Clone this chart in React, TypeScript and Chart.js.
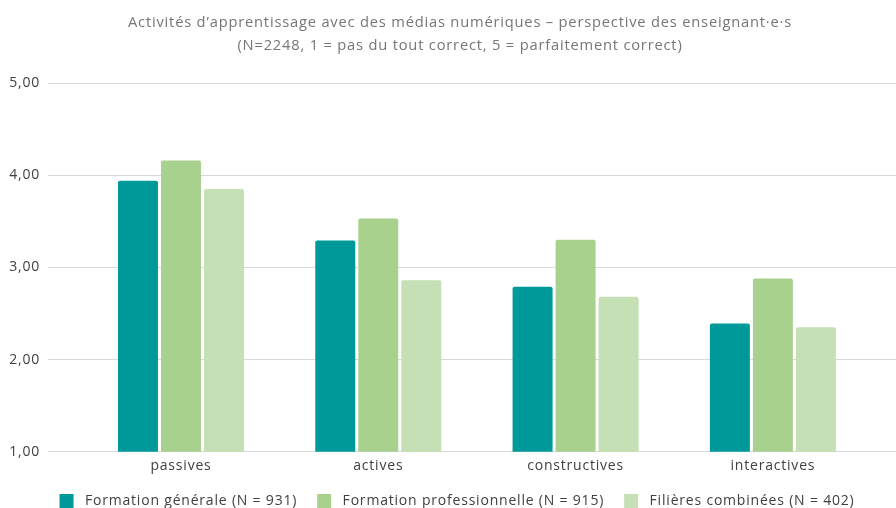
import { useEffect, useRef } from 'react';
import { Chart, registerables } from 'chart.js';

Chart.register(...registerables);

const categories = ['passives', 'actives', 'constructives', 'interactives'];
const seriesNames = [
  'Formation générale (N = 931)',
  'Formation professionnelle (N = 915)',
  'Filières combinées (N = 402)',
];
const formationGenerale = [3.94, 3.29, 2.79, 2.39];
const formationProfessionnelle = [4.16, 3.53, 3.3, 2.88];
const filieresCombinees = [3.85, 2.86, 2.68, 2.35];
const titleLines = [
  'Activités d’apprentissage avec des médias numériques – perspective des enseignant·e·s',
  '(N=2248, 1 = pas du tout correct, 5 = parfaitement correct)',
];
const yMin = 1;
const yMax = 5;

const colors = ['#009999', '#A9D18E', '#C5E0B4'];
const FONT = "'Open Sans', sans-serif";
const TITLE_SIZE = 14.7;

const spacingPlugin = {
  id: 'letterSpacing',
  beforeUpdate(chart: any) {
    chart.ctx.letterSpacing = '0.8px';
  },
  beforeDraw(chart: any) {
    chart.ctx.letterSpacing = '0.8px';
  },
  afterLayout(chart: any) {
    if (chart.legend) {
      chart.legend.left += 9;
      chart.legend.right += 9;
    }
    if (chart.titleBlock) {
      chart.titleBlock.left += 12;
      chart.titleBlock.right += 12;
    }
  },
};

export default function App() {
  const ref = useRef<HTMLCanvasElement | null>(null);

  useEffect(() => {
    if (!ref.current) return;
    const seriesValues = [formationGenerale, formationProfessionnelle, filieresCombinees];
    const chart = new Chart(ref.current, {
      type: 'bar',
      plugins: [spacingPlugin],
      data: {
        datasets: seriesValues.map((vals, s) => ({
          label: seriesNames[s],
          data: vals.map((v, i) => ({ x: i, y: v })),
          backgroundColor: colors[s],
          borderColor: colors[s],
          borderWidth: 0,
          borderRadius: 2,
          borderSkipped: 'bottom',
          barPercentage: 0.93,
          categoryPercentage: 0.654,
        })),
      },
      options: {
        animation: false,
        responsive: false,
        layout: { padding: { left: 0, right: 0, top: 0, bottom: -10 } },
        plugins: {
          title: {
            display: true,
            text: titleLines,
            color: '#767676',
            font: { family: FONT, size: TITLE_SIZE, weight: 'normal', lineHeight: 23 / TITLE_SIZE },
            padding: { top: 11, bottom: 26 },
          },
          legend: {
            position: 'bottom',
            labels: {
              boxWidth: 14,
              boxHeight: 14,
              padding: 20,
              color: '#404040',
              font: { family: FONT, size: 14 },
              generateLabels: (chart: any) =>
                Chart.defaults.plugins.legend.labels
                  .generateLabels(chart)
                  .map((item: any) => ({ ...item, text: ' ' + item.text })),
            },
          },
          tooltip: { enabled: false },
        },
        scales: {
          x: {
            type: 'linear',
            min: -0.674,
            max: 3.624,
            offset: false,
            grid: { display: false, drawTicks: false, offset: false },
            border: { display: false },
            afterBuildTicks: (scale: any) => {
              scale.ticks = categories.map((_, i) => ({ value: i }));
            },
            afterFit: (scale: any) => {
              scale.height -= 6.5;
            },
            ticks: {
              autoSkip: false,
              maxRotation: 0,
              padding: 6,
              color: '#404040',
              font: { family: FONT, size: 14 },
              callback: (v: any) => categories[v as number] ?? '',
            },
          },
          y: {
            min: yMin,
            max: yMax,
            beginAtZero: false,
            grid: { color: '#D9D9D9', drawTicks: false, lineWidth: 1 },
            border: { display: false },
            afterFit: (scale: any) => {
              scale.width = 48;
            },
            ticks: {
              stepSize: 1,
              padding: 8,
              color: '#404040',
              font: { family: FONT, size: 14 },
              callback: (v: any) => Number(v).toFixed(2).replace('.', ','),
            },
          },
        },
      },
    });
    return () => chart.destroy();
  }, []);

  return (
    <div style={{ position: 'fixed', left: 0, top: 0, width: 896, height: 508, background: '#fff' }}>
      <canvas ref={ref} width={896} height={508} />
    </div>
  );
}
